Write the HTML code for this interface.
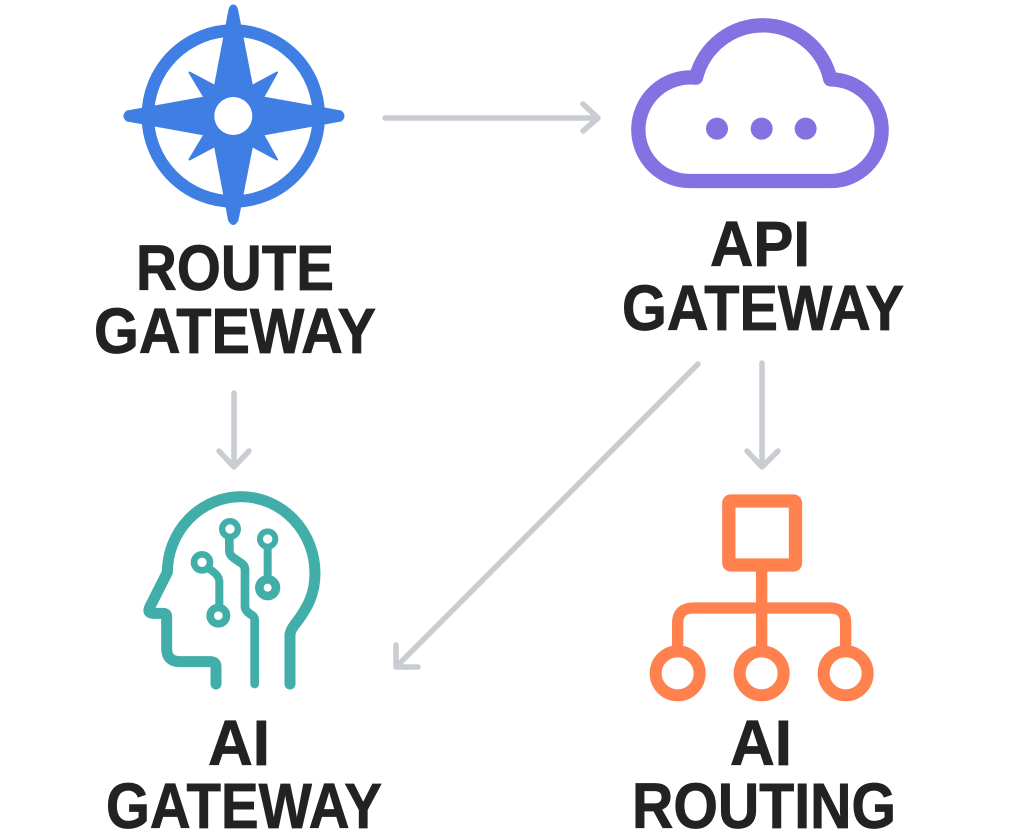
<!DOCTYPE html>
<html><head><meta charset="utf-8"><style>html,body{margin:0;padding:0;background:#fff}svg{display:block}text{font-family:"Liberation Sans",sans-serif;font-weight:700;font-size:64px;fill:#222;stroke:#222;stroke-width:.8px;text-anchor:middle}</style></head><body>
<svg width="1024" height="840" viewBox="0 0 1024 840" xmlns="http://www.w3.org/2000/svg">
<rect width="1024" height="840" fill="#fff"/>
<!-- compass -->
<g fill="#3f7fe3">
<circle cx="233.3" cy="116" r="85.5" fill="none" stroke="#3f7fe3" stroke-width="12.5"/>
<path stroke="#3f7fe3" stroke-width="2" stroke-linejoin="round" d="M233.3 5.5 Q236.5 5.5 237.5 12 L252 86 L277 72.5 L263 97.5 L341 111.5 Q346 116 341 120.5 L263 134.5 L277 159.5 L252 146 L237.5 220 Q233.3 228 229 220 L215 146 L189.5 159.5 L204.5 134.5 L127 120.5 Q122 116 127 111.5 L204.5 97.5 L189.5 72.5 L215 86 L229 12 Q230 5.5 233.3 5.5Z"/>
<circle cx="233.3" cy="116" r="19" fill="#fff"/>
</g>
<!-- cloud -->
<g transform="translate(620 10) scale(.3333)">
<path fill="none" stroke="#8272e2" stroke-width="43" stroke-linejoin="round" d="M210 513H632A153 153 0 0 0 785 360A155 152 0 0 0 631 208A207 207 0 0 0 228 203A157 157 0 0 0 55 360A154 154 0 0 0 210 513Z"/>
<circle cx="291" cy="356" r="33" fill="#8272e2"/><circle cx="425" cy="356" r="33" fill="#8272e2"/><circle cx="557" cy="356" r="33" fill="#8272e2"/>
</g>
<!-- head -->
<g transform="translate(130 485) scale(.3333)" fill="none" stroke="#41aea9" stroke-linecap="round" stroke-linejoin="round">
<path stroke-width="33" d="M258 597V545Q258 530 240 530H150Q110 530 110 490V395Q110 385 100 385H70Q50 385 60 365L112 262A222 228 0 0 1 333 35A222 230 0 0 1 555 265C555 330 530 370 505 405Q480 435 480 450V597"/>
<path stroke-width="26" d="M374 597V405Q374 395 365 390Q345 378 345 365V255Q345 240 330 232L310 218Q298 210 298 195V150"/>
<path stroke-width="24" d="M413 170V308"/>
<path stroke-width="24" d="M235 250Q268 270 268 290V392"/>
<g fill="#fff">
<circle cx="300" cy="132" r="23.5" stroke-width="19"/>
<circle cx="413" cy="162" r="23" stroke-width="18"/>
<circle cx="413" cy="308" r="25" stroke-width="26"/>
<circle cx="216" cy="232" r="24" stroke-width="20"/>
<circle cx="265" cy="392" r="24.5" stroke-width="23"/>
</g>
</g>
<!-- org -->
<g transform="translate(640 485) scale(.3333)" fill="none" stroke="#ff814d">
<rect x="266.5" y="48" width="200" height="192" rx="6" stroke-width="40"/>
<path stroke-width="34" d="M365 250V490M113 490V415Q113 369 160 369H570Q617 369 617 415V490"/>
<circle cx="113" cy="565" r="66" stroke-width="36"/><circle cx="365" cy="565" r="66" stroke-width="36"/><circle cx="617" cy="565" r="66" stroke-width="36"/>
</g>
<!-- arrows -->
<g fill="none" stroke="#c9ccd0" stroke-width="5.5" stroke-linecap="round" stroke-linejoin="round">
<path d="M385 118H597M583 104L598 118L583 131"/>
<path d="M234 393V466M219 451L234 467L249 451"/>
<path d="M762 363V466M747 451L762 467L778 451"/>
<path d="M698 364L396 667M396 645V667H418"/>
</g>
<!-- labels -->
<text x="235" y="290" textLength="198" lengthAdjust="spacingAndGlyphs">ROUTE</text>
<text x="235" y="353" textLength="282" lengthAdjust="spacingAndGlyphs">GATEWAY</text>
<text x="760" y="266" textLength="100" lengthAdjust="spacingAndGlyphs">API</text>
<text x="763" y="330" textLength="282" lengthAdjust="spacingAndGlyphs">GATEWAY</text>
<text x="239" y="765" textLength="62" lengthAdjust="spacingAndGlyphs">AI</text>
<text x="244" y="828" textLength="276" lengthAdjust="spacingAndGlyphs">GATEWAY</text>
<text x="761" y="765" textLength="62" lengthAdjust="spacingAndGlyphs">AI</text>
<text x="764" y="828" textLength="264" lengthAdjust="spacingAndGlyphs">ROUTING</text>
</svg>
</body></html>
